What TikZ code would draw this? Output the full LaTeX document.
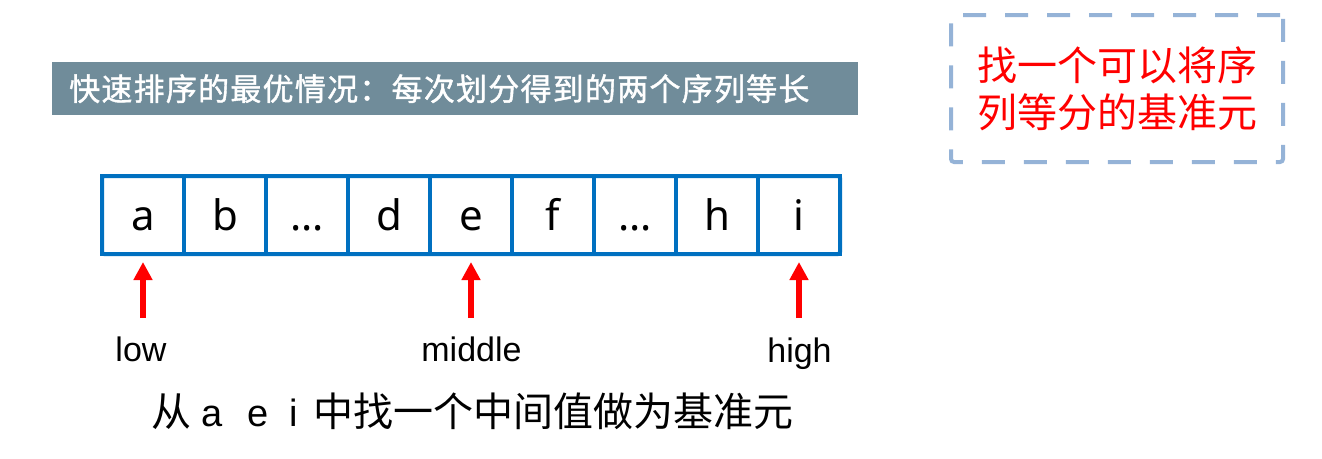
\documentclass[tikz,border=0pt]{standalone}
\usepackage{fontspec}
\usetikzlibrary{arrows.meta}
\setmainfont{Liberation Sans}
\newfontfamily\cjk{Noto Sans CJK SC}
\newfontfamily\cjktitle{Noto Sans CJK SC}[LetterSpace=4, FakeBold=1.3]
\newfontfamily\cellfont{Noto Sans}
\definecolor{cellblue}{RGB}{0,112,192}
\definecolor{barcol}{RGB}{112,140,154}
\definecolor{dashcol}{RGB}{149,179,215}
\tikzset{
  cell/.style={draw=cellblue, line width=4pt, minimum width=82pt, minimum height=78pt,
    inner sep=0pt, outer sep=0pt, text height=32pt, text depth=2pt,
    font=\cellfont\fontsize{42pt}{50pt}\selectfont},
  ptr/.style={draw=red, line width=6pt, -{Triangle[length=18pt,width=18pt]}, shorten >=8pt},
  lbl/.style={anchor=base, inner sep=0pt, font=\fontsize{34pt}{40pt}\selectfont},
  titlebar/.style={fill=barcol, anchor=north west, minimum width=806pt, minimum height=53pt,
    inner xsep=17pt, inner ysep=0pt, text width=772pt, align=left, text=white,
    font=\cjktitle\fontsize{31pt}{36pt}\selectfont},
  dashbox/.style={draw=dashcol, line width=4pt, dash pattern=on 23pt off 19pt,
    rounded corners=3pt, minimum width=332pt, minimum height=147pt, inner sep=0pt},
  redtext/.style={text=red, align=center, inner sep=0pt,
    font=\cjk\fontsize{40pt}{47pt}\selectfont}
}
\begin{document}
\begin{tikzpicture}[x=1pt,y=-1pt]
\useasboundingbox (0,0) rectangle (1322,458);
% title bar
\node[titlebar] (title) at (52,62) {快速排序的最优情况：每次划分得到的两个序列等长};
% dashed box
\node[dashbox] (box) at (1117,88.5) {};
\node[redtext] (boxtext) at (box.center) {找一个可以将序\\列等分的基准元};
% array cells
\node[cell] (c1) at (143,215) {a};
\node[cell] (c2) at (225,215) {b};
\node[cell] (c3) at (307,215) {...};
\node[cell] (c4) at (389,215) {d};
\node[cell] (c5) at (471,215) {e};
\node[cell] (c6) at (553,215) {f};
\node[cell] (c7) at (635,215) {...};
\node[cell] (c8) at (717,215) {h};
\node[cell] (c9) at (799,215) {i};
\draw[cellblue, line width=4pt, rounded corners=2pt] (c1.north west) rectangle (c9.south east);
% pointers
\coordinate (tlow) at (143,318);
\coordinate (tmid) at (471,318);
\coordinate (thigh) at (799,318);
\draw[ptr] (tlow) -- (c1.south);
\draw[ptr] (tmid) -- (c5.south);
\draw[ptr] (thigh) -- (c9.south);
% labels
\node[lbl] (low) at (141,361) {low};
\node[lbl] (mid) at (471.5,361) {middle};
\node[lbl] (high) at (799.5,362) {high};
% bottom text
\node[anchor=base west, inner sep=0pt] (bottom) at (151,426)
  {\cjk\fontsize{40pt}{48pt}\selectfont 从\fontsize{38pt}{46pt}\rmfamily\hspace{10pt}a\hspace{25pt}e\hspace{21.5pt}i\hspace{15pt}\cjk\fontsize{40pt}{48pt}\selectfont 中找一个中间值做为基准元};
\end{tikzpicture}
\end{document}
